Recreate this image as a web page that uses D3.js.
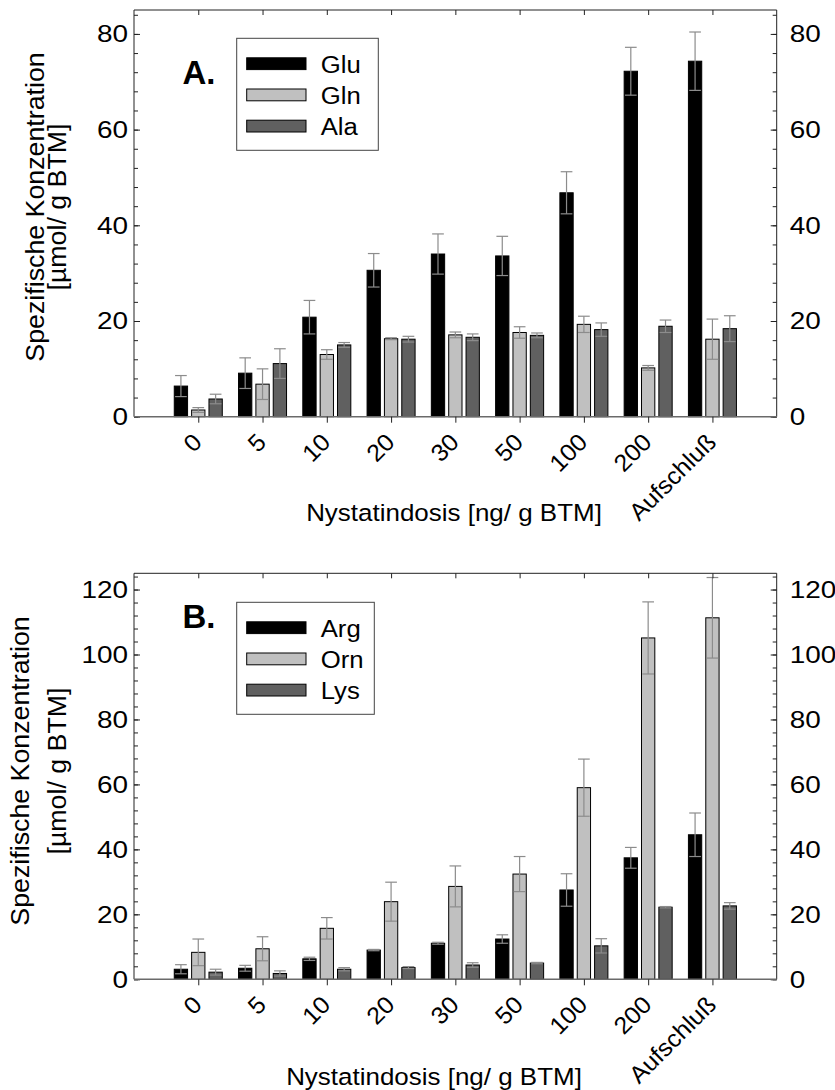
<!DOCTYPE html>
<html>
<head>
<meta charset="utf-8">
<script src="https://cdn.jsdelivr.net/npm/d3@7"></script>
<style>
  html, body { margin: 0; padding: 0; background: #fff; }
  svg { display: block; }
  text { font-family: Arial, "Liberation Sans", Helvetica, sans-serif; fill: #000; }
</style>
</head>
<body>
<div id="chart"></div>
<script>
// ---------- data ----------
const categories = ["0", "5", "10", "20", "30", "50", "100", "200", "Aufschluß"];

// Panel A
const seriesA = ["Glu", "Gln", "Ala"];
const glu    = [6.4, 9.1, 20.8, 30.6, 34.0, 33.6, 46.8, 72.2, 74.3];
const gluErr = [2.2, 3.2, 3.5, 3.5, 4.2, 4.1, 4.4, 5.0, 6.1];
const gln    = [1.4, 6.8, 13.0, 16.3, 17.1, 17.6, 19.3, 10.2, 16.2];
const glnErr = [0.5, 3.2, 1.0, 0.2, 0.6, 1.2, 1.7, 0.5, 4.2];
const ala    = [3.7, 11.1, 15.0, 16.2, 16.6, 17.0, 18.2, 18.9, 18.4];
const alaErr = [1.0, 3.1, 0.5, 0.6, 0.7, 0.5, 1.4, 1.3, 2.7];
const ticksA = [0, 20, 40, 60, 80];

// Panel B
const seriesB = ["Arg", "Orn", "Lys"];
const arg    = [3.1, 3.4, 6.3, 9.0, 11.1, 12.4, 27.5, 37.4, 44.5];
const argErr = [1.4, 0.9, 0.5, 0.2, 0.3, 1.3, 5.0, 3.2, 6.7];
const orn    = [8.3, 9.4, 15.7, 23.9, 28.6, 32.4, 59.0, 105.1, 111.3];
const ornErr = [4.1, 3.7, 3.3, 6.0, 6.3, 5.4, 8.8, 11.1, 12.4];
const lys    = [2.2, 1.8, 3.1, 3.6, 4.4, 5.0, 10.3, 22.2, 22.6];
const lysErr = [0.9, 0.8, 0.5, 0.3, 0.7, 0.2, 2.2, 0.2, 1.0];
const ticksB = [0, 20, 40, 60, 80, 100, 120];

const yTitle1 = "Spezifische Konzentration";
const yTitle2 = "[µmol/ g BTM]";
const xTitle = "Nystatindosis [ng/ g BTM]";

// ---------- drawing ----------
const W = 835, H = 1090;
const fills = ["#000000", "#c0c0c0", "#606060"];
const errColor = "#8c8c8c";

const svg = d3.select("#chart").append("svg")
  .attr("width", W).attr("height", H);

const left = 134, right = 776.7;
const tickSx = 1.14, tickFs = 24.5;

function label(g, x, y, txt, o) {
  return g.append("text")
    .attr("transform", `translate(${x},${y}) rotate(${o.rot || 0}) scale(${o.sx || 1},1)`)
    .attr("text-anchor", o.anchor || "start")
    .style("font-size", o.fs + "px")
    .style("font-weight", o.bold ? "bold" : null)
    .text(txt);
}

function panel(cfg) {
  const x = d3.scaleLinear().domain([-1, categories.length]).range([left, right]);
  const y = d3.scaleLinear().domain([0, cfg.yMax]).range([cfg.bottom, cfg.top]);
  const step = x(1) - x(0);
  const barW = step * 0.207;
  const offs = step * 0.27;
  const g = svg.append("g");

  // bars
  cfg.values.forEach((vals, k) => {
    const errs = cfg.errors[k];
    const gs = g.append("g");
    gs.selectAll("rect").data(vals).join("rect")
      .attr("x", (d, i) => x(i) + (k - 1) * offs - barW / 2)
      .attr("y", d => y(d))
      .attr("width", barW)
      .attr("height", d => y(0) - y(d))
      .attr("fill", fills[k])
      .attr("stroke", "#000")
      .attr("stroke-width", 1);
    const capW = barW - 1.6;
    const cx = d => x(d.i) + (k - 1) * offs;
    const eb = gs.selectAll("g.err").data(vals.map((v, i) => ({v, e: errs[i], i})))
      .join("g").attr("class", "err")
      .attr("stroke", errColor).attr("stroke-width", 1.2);
    eb.append("line")
      .attr("x1", cx).attr("x2", cx)
      .attr("y1", d => y(d.v - d.e)).attr("y2", d => y(d.v + d.e));
    eb.append("line")
      .attr("x1", d => cx(d) - capW / 2).attr("x2", d => cx(d) + capW / 2)
      .attr("y1", d => y(d.v + d.e)).attr("y2", d => y(d.v + d.e));
    eb.append("line")
      .attr("x1", d => cx(d) - capW / 2).attr("x2", d => cx(d) + capW / 2)
      .attr("y1", d => y(d.v - d.e)).attr("y2", d => y(d.v - d.e));
  });

  // frame
  const frame = [[left, cfg.top, right, cfg.top], [left, cfg.top, left, cfg.bottom], [right, cfg.top, right, cfg.bottom]];
  frame.forEach(f => g.append("line").attr("x1", f[0]).attr("y1", f[1]).attr("x2", f[2]).attr("y2", f[3])
    .attr("stroke", "#222").attr("stroke-width", 1));

  const minorVals = d3.range(0, cfg.yMax + 0.01, 4);
  // left axis
  const la = g.append("g").attr("transform", `translate(${left},0)`)
    .call(d3.axisLeft(y).tickValues(minorVals).tickSize(-4).tickFormat(""));
  const laM = g.append("g").attr("transform", `translate(${left},0)`)
    .call(d3.axisLeft(y).tickValues(cfg.ticks).tickSize(-6).tickPadding(6));
  // right axis
  const ra = g.append("g").attr("transform", `translate(${right},0)`)
    .call(d3.axisRight(y).tickValues(minorVals).tickSize(-4).tickFormat(""));
  const raM = g.append("g").attr("transform", `translate(${right},0)`)
    .call(d3.axisRight(y).tickValues(cfg.ticks).tickSize(-6).tickPadding(13));
  [la, laM, ra, raM].forEach(a => {
    a.select(".domain").remove();
    a.selectAll("line").attr("stroke", "#222");
    a.selectAll("text").style("font-size", tickFs + "px").style("font-family", "Arial, 'Liberation Sans', sans-serif");
  });
  laM.selectAll("text").attr("x", -6 / tickSx).attr("transform", `scale(${tickSx},1)`);
  raM.selectAll("text").attr("x", 13 / tickSx).attr("transform", `scale(${tickSx},1)`);

  // top ticks (inside)
  const ta = g.append("g").attr("transform", `translate(0,${cfg.top})`)
    .call(d3.axisTop(x).tickValues(d3.range(categories.length)).tickSize(-5).tickFormat(""));
  ta.select(".domain").remove();
  ta.selectAll("line").attr("stroke", "#222");

  // bottom axis (zero line + outside ticks)
  const ba = g.append("g").attr("transform", `translate(0,${cfg.bottom})`)
    .call(d3.axisBottom(x).tickValues(d3.range(categories.length)).tickSize(6).tickFormat(""));
  ba.select(".domain").attr("d", `M${left},0H${right}`).attr("stroke", "#6a6a6a").attr("stroke-width", 1.6);
  ba.selectAll("line").attr("stroke", "#222");

  // rotated category labels
  const cl = g.append("g");
  categories.forEach((c, i) => label(cl, x(i) + 5, cfg.bottom + 27, c, {rot: -45, anchor: "end", fs: 24, sx: 1.04}));

  // x title
  label(g, cfg.xTitleX, cfg.xTitleY, xTitle, {anchor: "middle", fs: 24.5, sx: 1.06});

  // y title
  label(g, cfg.yT1, cfg.yTc, yTitle1, {rot: -90, anchor: "middle", fs: 25.5, sx: 1.05});
  label(g, cfg.yT2, cfg.yTc, yTitle2, {rot: -90, anchor: "middle", fs: 25.5, sx: 1.05});

  // panel letter
  label(g, 182.5, cfg.letterY, cfg.letter, {fs: 33, bold: true});

  // legend
  const lg = g.append("g");
  lg.append("rect").attr("x", 236.7).attr("y", cfg.legY).attr("width", cfg.legW).attr("height", 112)
    .attr("fill", "#fff").attr("stroke", "#444").attr("stroke-width", 1);
  cfg.names.forEach((n, k) => {
    const ry = cfg.legY + 19.5 + k * 31.2;
    lg.append("rect").attr("x", 246.7).attr("y", ry).attr("width", 59.3).attr("height", 11.8)
      .attr("fill", fills[k]).attr("stroke", "#000").attr("stroke-width", 1);
    label(lg, 320.7, ry + 15, n, {fs: 24.5, sx: 1.05});
  });
}

panel({
  yMax: 85, top: 10, bottom: 416.7, ticks: ticksA,
  values: [glu, gln, ala], errors: [gluErr, glnErr, alaErr], names: seriesA,
  letter: "A.", letterY: 84.3, legY: 38.3, legW: 141.6,
  xTitleX: 454, xTitleY: 521, yT1: 44, yT2: 66, yTc: 207
});

panel({
  yMax: 125, top: 573.3, bottom: 979.3, ticks: ticksB,
  values: [arg, orn, lys], errors: [argErr, ornErr, lysErr], names: seriesB,
  letter: "B.", letterY: 628.3, legY: 602.3, legW: 137.6,
  xTitleX: 434, xTitleY: 1085, yT1: 29, yT2: 66, yTc: 771
});
</script>
</body>
</html>
